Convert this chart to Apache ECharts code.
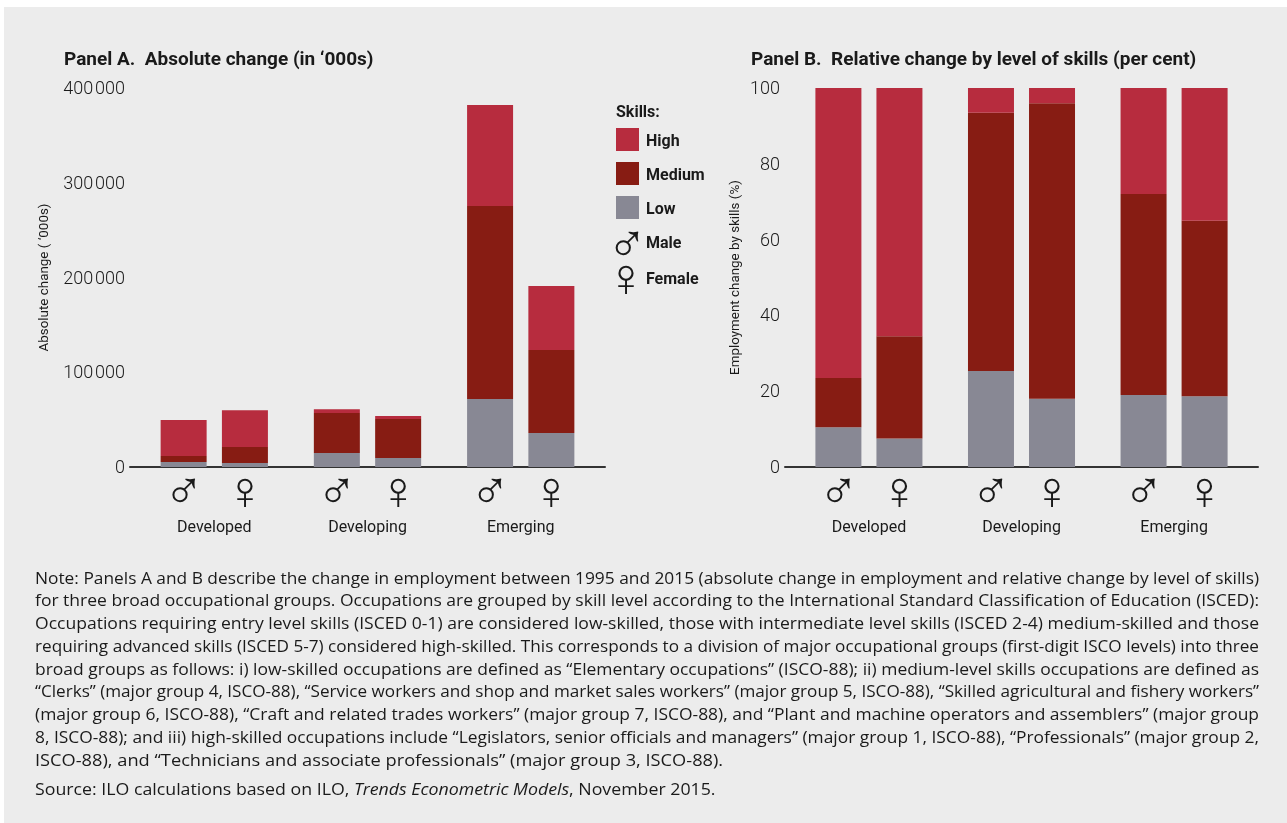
<!DOCTYPE html>
<html><head><meta charset="utf-8">
<style>html,body{margin:0;padding:0;background:#fff}#c{width:1287px;height:823px}</style>
<script src="https://cdn.jsdelivr.net/npm/echarts@6/dist/echarts.min.js"></script>
</head><body><div id="c"></div>
<script>
const slots = 31;
const maleAt = [3, 13, 23], femaleAt = [7, 17, 27], groupAt = [5, 15, 25];
const groups = ['Developed', 'Developing', 'Emerging'];
const barSlots = [3, 7, 13, 17, 23, 27];
const yTicksA = ['0', '100\u200a000', '200\u200a000', '300\u200a000', '400\u200a000'];

const lowA = [5300, 4200, 14800, 9500, 71800, 35900];
const medA = [6300, 16800, 42200, 41100, 203700, 87600];
const highA = [38000, 39000, 4000, 3200, 106500, 67500];
const lowB = [10.5, 7.5, 25.3, 18, 19, 18.7];
const medB = [13, 27, 68.2, 78, 53, 46.3];
const highB = [76.5, 65.5, 6.5, 4, 28, 35];

const noteLines = [
 'Note: Panels A and B describe the change in employment between 1995 and 2015 (absolute change in employment and relative change by level of skills)',
 'for three broad occupational groups. Occupations are grouped by skill level according to the International Standard Classification of Education (ISCED):',
 'Occupations requiring entry level skills (ISCED 0-1) are considered low-skilled, those with intermediate level skills (ISCED 2-4) medium-skilled and those',
 'requiring advanced skills (ISCED 5-7) considered high-skilled. This corresponds to a division of major occupational groups (first-digit ISCO levels) into three',
 'broad groups as follows: i) low-skilled occupations are defined as \u201cElementary occupations\u201d (ISCO-88); ii) medium-level skills occupations are defined as',
 '\u201cClerks\u201d (major group 4, ISCO-88), \u201cService workers and shop and market sales workers\u201d (major group 5, ISCO-88), \u201cSkilled agricultural and fishery workers\u201d',
 '(major group 6, ISCO-88), \u201cCraft and related trades workers\u201d (major group 7, ISCO-88), and \u201cPlant and machine operators and assemblers\u201d (major group',
 '8, ISCO-88); and iii) high-skilled occupations include \u201cLegislators, senior officials and managers\u201d (major group 1, ISCO-88), \u201cProfessionals\u201d (major group 2,',
 'ISCO-88), and \u201cTechnicians and associate professionals\u201d (major group 3, ISCO-88).'
];
const sourceText = 'Source: ILO calculations based on ILO, {i|Trends Econometric Models}, November 2015.';

const C = {high: '#b72c3e', med: '#871c13', low: '#888894', ink: '#1a1a1a', bg: '#ececec'};
const MALE = '\u2642', FEMALE = '\u2640';
const symFont = '"Liberation Sans", "DejaVu Sans", sans-serif';
const mainFont = 'Roboto, sans-serif';
const narrow = '"Liberation Sans Narrow", Roboto, sans-serif';

const cats = Array.from({length: slots}, (_, i) => String(i));
const genderLabel = i => maleAt.includes(+i) ? MALE : femaleAt.includes(+i) ? FEMALE : '';
const groupLabel = i => { const k = groupAt.indexOf(+i); return k >= 0 ? groups[k] : ''; };
const spread = vals => { const a = Array(slots).fill(null); barSlots.forEach((s, i) => a[s] = vals[i]); return a; };

const meas = document.createElement('canvas').getContext('2d');
const noteFamily = '"Open Sans", sans-serif', noteSize = 16;
const noteFont = noteSize + 'px ' + noteFamily;
meas.font = noteFont;
const noteLeft = 35, noteRight = 1259, noteTop = 579, notePitch = 22.75;
const scales = noteLines.slice(0, -1).map(t => (noteRight - noteLeft) / meas.measureText(t).width);
const meanScale = scales.reduce((a, b) => a + b, 0) / scales.length;
const noteGraphics = noteLines.map((t, i) => ({
  type: 'text', x: noteLeft, y: noteTop + i * notePitch, scaleX: i < scales.length ? scales[i] : meanScale * 1.05, z: 5,
  style: {text: t, font: noteFont, fill: C.ink, verticalAlign: 'middle'}
}));

const gridCommon = {top: 88, height: 379};
function xAxes(idx) {
  return [
    {type: 'category', gridIndex: idx, data: cats, position: 'bottom',
     axisLine: {lineStyle: {color: '#333', width: 2}}, axisTick: {show: false},
     axisLabel: {interval: 0, margin: 0, formatter: genderLabel, fontFamily: symFont, fontSize: 54, color: C.ink}},
    {type: 'category', gridIndex: idx, data: cats, position: 'bottom',
     axisLine: {show: false}, axisTick: {show: false},
     axisLabel: {interval: 0, margin: 53, formatter: groupLabel, fontFamily: mainFont, fontSize: 16, color: C.ink}}
  ];
}
function yAxis(idx, max, interval, name, fmt) {
  return {type: 'value', gridIndex: idx, min: 0, max, interval, name, nameLocation: 'middle',
    nameGap: idx === 0 ? 79 : 43, nameTextStyle: {fontFamily: narrow, fontSize: 13.4, color: C.ink},
    axisLine: {show: false}, axisTick: {show: false}, splitLine: {show: false},
    axisLabel: {margin: 5, formatter: v => '{t|' + (fmt ? fmt(v) : v) + '}',
      rich: {t: {padding: [3, 0, 0, 0], fontFamily: mainFont, fontSize: 18, fontWeight: 300, color: C.ink}}}};
}
function bars(name, color, vals, idx) {
  return {type: 'bar', name, stack: 'p' + idx, xAxisIndex: idx * 2, yAxisIndex: idx, data: spread(vals),
    barWidth: 46, itemStyle: {color}, silent: true};
}

const legendFont = 'bold 16px Roboto, sans-serif';
const chart = echarts.init(document.getElementById('c'), null, {width: 1287, height: 823});
chart.setOption({
  animation: false,
  backgroundColor: '#fff',
  title: [
    {text: 'Panel A.  Absolute change (in \u2018000s)', left: 64, top: 51, padding: 0,
     textStyle: {fontFamily: mainFont, fontSize: 19, fontWeight: 'bold', color: C.ink}},
    {text: 'Panel B.  Relative change by level of skills (per cent)', left: 751, top: 51, padding: 0,
     textStyle: {fontFamily: mainFont, fontSize: 19, fontWeight: 'bold', color: C.ink}}
  ],
  legend: {orient: 'vertical', left: 616, top: 128, padding: 0, itemWidth: 23, itemHeight: 23, itemGap: 11,
    selectedMode: false, icon: 'rect', data: ['High', 'Medium', 'Low'],
    formatter: n => '{t|' + n + '}',
    textStyle: {fontFamily: mainFont, fontSize: 16, fontWeight: 'bold', color: C.ink,
      rich: {t: {padding: [4, 0, 0, 2], fontFamily: mainFont, fontSize: 16, fontWeight: 'bold', color: C.ink}}}},
  grid: [
    {left: 130, width: 475, ...gridCommon},
    {left: 785, width: 473, ...gridCommon}
  ],
  xAxis: [...xAxes(0), ...xAxes(1)],
  yAxis: [
    yAxis(0, 400000, 100000, 'Absolute change ( \u2018000s)', (v) => yTicksA[v / 100000]),
    yAxis(1, 100, 20, 'Employment change by skills (%)')
  ],
  series: [
    bars('Low', C.low, lowA, 0), bars('Medium', C.med, medA, 0), bars('High', C.high, highA, 0),
    bars('Low', C.low, lowB, 1), bars('Medium', C.med, medB, 1), bars('High', C.high, highB, 1)
  ],
  graphic: {elements: [
    {type: 'rect', shape: {x: 4, y: 7, width: 1283, height: 816}, style: {fill: C.bg}, z: -10, silent: true},
    {type: 'text', x: 616, y: 113, z: 5, style: {text: 'Skills:', font: legendFont, fill: C.ink, verticalAlign: 'middle'}},
    {type: 'text', x: 627, y: 247, z: 5, style: {text: MALE, font: '54px ' + symFont, fill: C.ink, align: 'center', verticalAlign: 'middle'}},
    {type: 'text', x: 646, y: 244, z: 5, style: {text: 'Male', font: legendFont, fill: C.ink, verticalAlign: 'middle'}},
    {type: 'text', x: 626, y: 281, z: 5, style: {text: FEMALE, font: '54px ' + symFont, fill: C.ink, align: 'center', verticalAlign: 'middle'}},
    {type: 'text', x: 646, y: 280, z: 5, style: {text: 'Female', font: legendFont, fill: C.ink, verticalAlign: 'middle'}},
    ...noteGraphics,
    {type: 'text', x: noteLeft, y: 790, z: 5, scaleX: meanScale * 1.022, style: {text: sourceText, font: noteFont, fill: C.ink, verticalAlign: 'middle',
      rich: {i: {fontStyle: 'italic', fontFamily: noteFamily, fontSize: noteSize, fill: C.ink}}}}
  ]}
});
</script></body></html>
